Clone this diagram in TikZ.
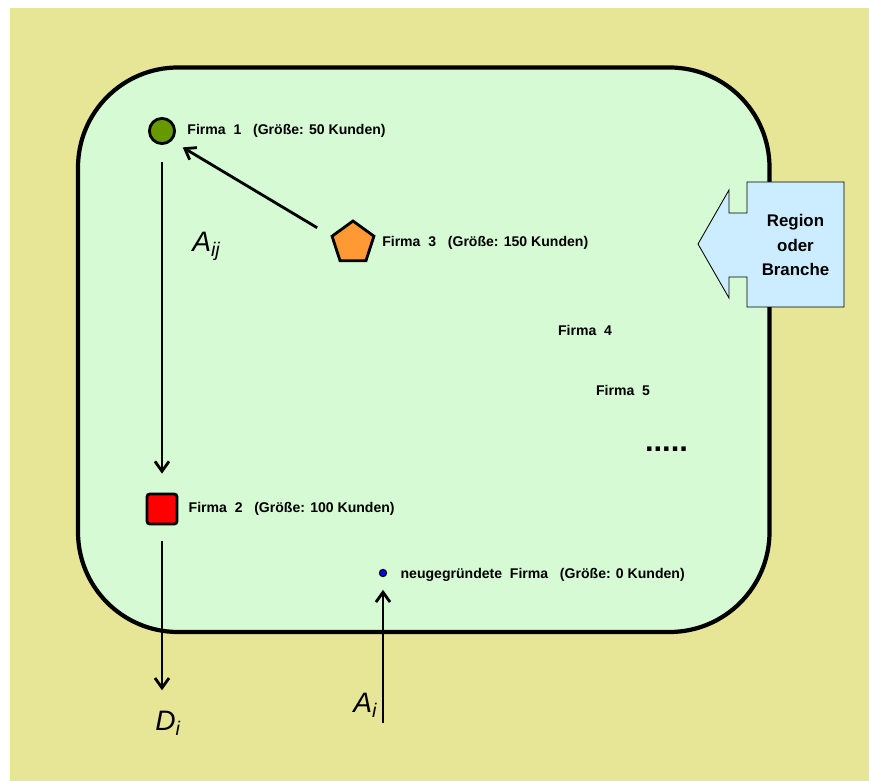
\documentclass[tikz,border=0pt]{standalone}
\usepackage{fontspec}
\setmainfont{Liberation Sans}
\usepackage{tikz}
\usetikzlibrary{positioning,shapes.geometric,arrows.meta}
\definecolor{hatchyellow}{RGB}{230,230,150}
\definecolor{regiongreen}{RGB}{214,250,212}
\definecolor{calloutblue}{RGB}{204,236,255}
\definecolor{firmgreen}{RGB}{102,153,0}
\definecolor{firmorange}{RGB}{255,153,51}

\begin{document}
\begin{tikzpicture}[scale=0.25,
	firm/.style={draw=black, line width=2pt, minimum size=0.63cm},
	lab/.style={font=\fontsize{10}{12}\selectfont\bfseries},
	reglab/.style={font=\fontsize{12}{17.4}\selectfont\bfseries, align=center},
	sym/.style={font=\fontsize{20}{24}\selectfont\itshape},
	flow/.style={draw=black, line width=2pt, -{Straight Barb[length=7pt,width=10pt]}}]
					\tikzstyle{every node}+=[inner sep=0pt]
					\useasboundingbox (0,0) rectangle (86.9,-78.1);
					\fill [hatchyellow] (1,-0.8) rectangle (86.9,-78.1);
					\draw [black, line width=3pt, fill=regiongreen, rounded corners=2.5cm] (7.8,-6.75) rectangle (76.95,-63.2);
					\draw [black, line width=0.6pt, fill=calloutblue] (74.7,-18.2) -- (84.4,-18.2) -- (84.4,-30.7) -- (74.7,-30.7) -- (74.7,-27.7) -- (72.9,-27.7) -- (72.9,-29.8) -- (69.8,-24.4) -- (72.9,-19.0) -- (72.9,-21.3) -- (74.7,-21.3) -- cycle;
					\node (region) [reglab] at (79.55,-24.5) {Region\\oder\\Branche};
					\node (f1) [firm, circle, fill=firmgreen] at (16.2,-13.1) {};
					\node (f1lab) [lab, right=0.28cm of f1] {Firma\ \ 1\ \ \ (Größe: 50 Kunden)};
					\node (f3) [firm, regular polygon, regular polygon sides=5, minimum size=1.1cm, fill=firmorange] at (35.3,-24.3) {};
					\node (f3lab) [lab, right=0.22cm of f3] {Firma\ \ 3\ \ \ (Größe: 150 Kunden)};
					\node (f2) [firm, rectangle, rounded corners=2pt, minimum size=0.75cm, fill=red] at (16.2,-50.9) {};
					\node (f2lab) [lab, right=0.25cm of f2] {Firma\ \ 2\ \ \ (Größe: 100 Kunden)};
					\node (fn) [circle, draw=black, line width=0.8pt, fill=blue, minimum size=0.18cm] at (38.3,-57.3) {};
					\node (fnlab) [lab, right=0.33cm of fn, yshift=-0.05cm] {neugegründete\ \ Firma\ \ \ (Größe: 0 Kunden)};
					\node (f4) [lab] at (58.5,-33.0) {Firma\ \ 4};
					\node (f5) [lab] at (62.3,-39.0) {Firma\ \ 5};
					\node (more) [font=\fontsize{22}{22}\rmfamily\bfseries\selectfont] at (66.65,-44.9) {.....};
					\node (aij) [sym, anchor=base west] at (19.2,-25.2) {A\textsubscript{ij}};
					\node (di) [sym, anchor=base west] at (15.5,-73.1) {D\textsubscript{i}};
					\node (ai) [sym, anchor=base west] at (35.3,-71.3) {A\textsubscript{i}};
					\coordinate (aibase) at (38.3,-72.3);
					\draw [flow, shorten <=11pt, shorten >=9pt] (f3.corner 2) -- (f1.south east);
					\draw [flow, shorten <=12pt, shorten >=13.5pt] (f1) -- (f2);
					\draw [flow, shorten <=11pt, shorten >=15pt] (f2) -- (f2 |- di.north);
					\draw [flow, shorten >=9pt] (aibase) -- (fn);
\end{tikzpicture}
\end{document}
